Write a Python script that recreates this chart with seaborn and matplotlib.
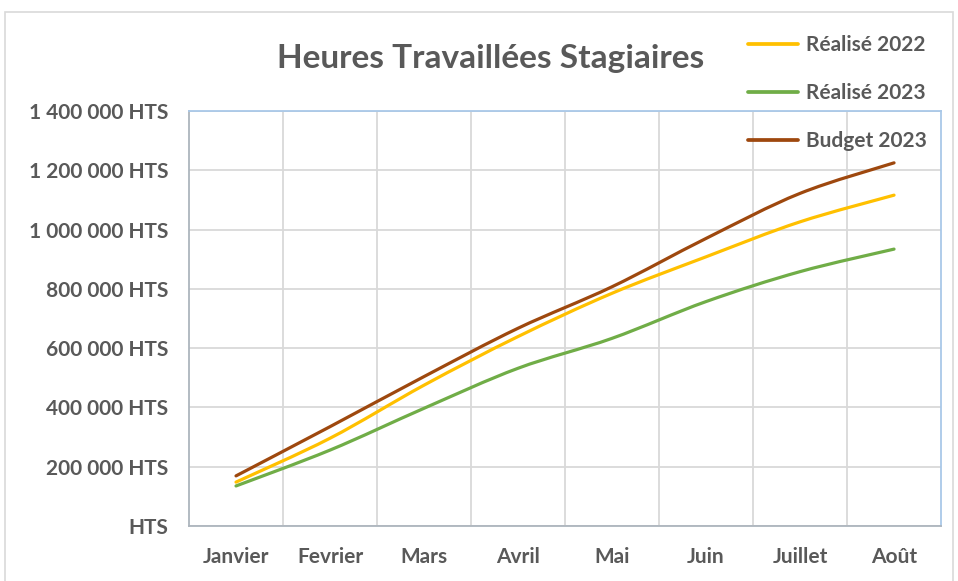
import matplotlib
matplotlib.use("Agg")
import pandas as pd
import seaborn as sns
from matplotlib import pyplot as plt
from matplotlib.lines import Line2D
from matplotlib.patches import PathPatch, Rectangle
from matplotlib.path import Path

# data
months = ["Janvier", "Fevrier", "Mars", "Avril", "Mai", "Juin", "Juillet", "Août"]
realise_2022 = [148000, 296000, 475000, 639000, 785000, 908000, 1026000, 1116000]
realise_2023 = [135000, 256000, 397000, 532000, 633000, 757000, 858000, 934000]
budget_2023 = [169000, 335000, 504000, 667000, 807000, 970000, 1122000, 1225000]
series_names = ["Réalisé 2022", "Réalisé 2023", "Budget 2023"]
y_ticks = [0, 200000, 400000, 600000, 800000, 1000000, 1200000, 1400000]
y_tick_labels = ["HTS", "200 000 HTS", "400 000 HTS", "600 000 HTS", "800 000 HTS",
                 "1 000 000 HTS", "1 200 000 HTS", "1 400 000 HTS"]

colors = ["#FFC000", "#70AD47", "#9E480E"]
text_color = "#595959"
LW = 2.3


def build_frame():
    rows = []
    for name, values in zip(series_names, [realise_2022, realise_2023, budget_2023]):
        for i, (m, v) in enumerate(zip(months, values)):
            rows.append({"pos": i, "month": m, "serie": name, "heures": v})
    return pd.DataFrame(rows)


def smooth_path(xs, ys):
    """bezier path through the points, like the excel 'smoothed line' option"""
    pts = list(zip(xs, ys))
    verts = [pts[0]]
    codes = [Path.MOVETO]
    n = len(pts)
    for i in range(n - 1):
        p0 = pts[max(i - 1, 0)]
        p1 = pts[i]
        p2 = pts[i + 1]
        p3 = pts[min(i + 2, n - 1)]
        c1 = (p1[0] + (p2[0] - p0[0]) / 6, p1[1] + (p2[1] - p0[1]) / 6)
        c2 = (p2[0] - (p3[0] - p1[0]) / 6, p2[1] - (p3[1] - p1[1]) / 6)
        verts += [c1, c2, p2]
        codes += [Path.CURVE4] * 3
    return Path(verts, codes)


def main():
    sns.set_theme(style="white")
    plt.rcParams["font.family"] = ["Lato", "DejaVu Sans"]
    df = build_frame()

    fig = plt.figure(figsize=(9.58, 5.81), dpi=100)
    ax = fig.add_axes([0.1973, 0.0947, 0.785, 0.7143])

    sns.lineplot(data=df, x="pos", y="heures", hue="serie", hue_order=series_names,
                 palette=colors, linewidth=LW, ax=ax, legend=False)

    # swap the straight segments for smoothed curves
    for line, color in zip(ax.get_lines(), colors):
        xs, ys = line.get_xdata(), line.get_ydata()
        ax.add_patch(PathPatch(smooth_path(xs, ys), fill=False, edgecolor=color,
                               linewidth=LW, capstyle="round", zorder=3))
        line.set_visible(False)

    ax.set_xlim(-0.5, len(months) - 0.5)
    ax.set_ylim(0, 1400000)
    ax.set_yticks(y_ticks)
    ax.set_yticklabels(y_tick_labels, fontsize=15, fontweight="bold", color=text_color)
    ax.set_xticks(range(len(months)))
    ax.set_xticklabels(months, fontsize=15, fontweight="bold", color=text_color)
    # vertical gridlines sit between categories
    ax.set_xticks([i + 0.5 for i in range(len(months) - 1)], minor=True)
    ax.grid(False)
    ax.grid(True, which="minor", axis="x", color="#D9D9D9", linewidth=1.3)
    ax.grid(True, which="major", axis="y", color="#D9D9D9", linewidth=1.3)
    ax.tick_params(axis="both", which="both", length=0)
    ax.tick_params(axis="y", pad=15)
    ax.tick_params(axis="x", pad=15)
    ax.set_xlabel("")
    ax.set_ylabel("")

    for side in ["top", "right"]:
        ax.spines[side].set_color("#A9C8E8")
        ax.spines[side].set_linewidth(1.3)
    for side in ["left", "bottom"]:
        ax.spines[side].set_color("#ADB5BD")
        ax.spines[side].set_linewidth(1.3)

    fig.text(0.512, 0.900, "Heures Travaillées Stagiaires", ha="center", va="center",
             fontsize=24, fontweight="bold", color=text_color)

    handles = [Line2D([], [], color=c, linewidth=LW + 0.4) for c in colors]
    ax.legend(handles, series_names, loc="upper left", bbox_to_anchor=(0.761, 0.972),
              bbox_transform=fig.transFigure, frameon=False, handlelength=2.4,
              handletextpad=0.4, labelspacing=1.35,
              prop={"weight": "bold", "size": 15}, labelcolor=text_color)

    fig.patches.append(Rectangle((0.005, -0.01), 0.99, 0.99, transform=fig.transFigure,
                                 fill=False, edgecolor="#D9D9D9", linewidth=1.2))

    fig.savefig("out.png", dpi=100)


if __name__ == "__main__":
    main()
